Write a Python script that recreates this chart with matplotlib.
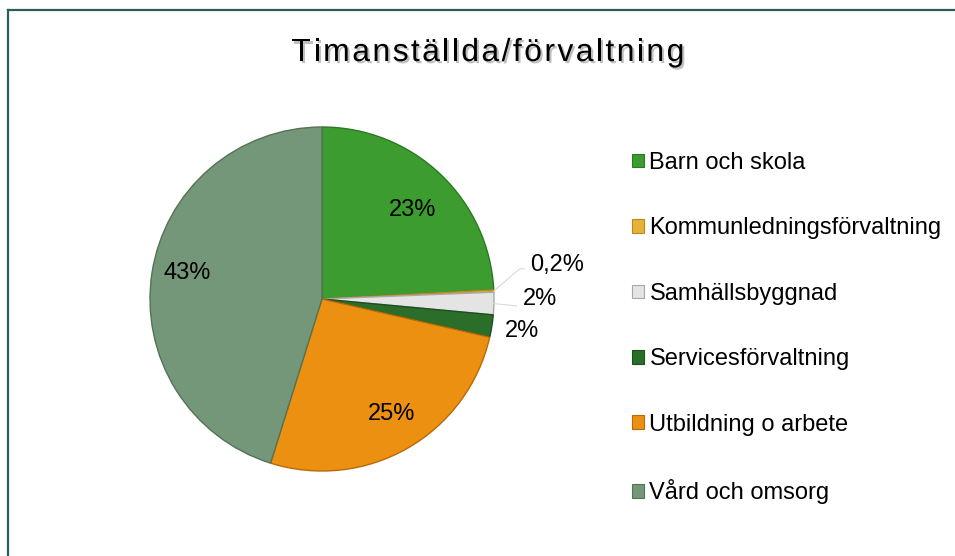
import numpy as np
import matplotlib
matplotlib.use("Agg")
import matplotlib.pyplot as plt
import matplotlib.patheffects as pe
from matplotlib.patches import Patch
from matplotlib.lines import Line2D
from matplotlib.font_manager import FontProperties

plt.rcParams['font.family'] = ['Liberation Sans', 'DejaVu Sans']

title = "Timanställda/förvaltning"
categories = ["Barn och skola", "Kommunledningsförvaltning", "Samhällsbyggnad",
              "Servicesförvaltning", "Utbildning o arbete", "Vård och omsorg"]
values = [23, 0.2, 2, 2, 25, 43]
value_labels = ["23%", "0,2%", "2%", "2%", "25%", "43%"]

colors = ["#3c9c30", "#e8b238", "#e4e4e4", "#2b6e2a", "#ec9012", "#74977a"]
edges = ["#2a7a22", "#b88a20", "#a8a8a8", "#1d4e1d", "#b86a08", "#567256"]

W, H = 955, 556
fig = plt.figure(figsize=(W / 100, H / 100), dpi=100)

# pie axes: pixel box
cx, cy, R = 322, 299, 172
ax = fig.add_axes([(cx - R) / W, (H - cy - R) / H, 2 * R / W, 2 * R / H])
wedges, _ = ax.pie(values, colors=colors, startangle=90, counterclock=False,
                   radius=1.0, wedgeprops=dict(linewidth=1.0))
for w, ec in zip(wedges, edges):
    w.set_edgecolor(ec)
ax.set_xlim(-1, 1)
ax.set_ylim(-1, 1)
ax.set_aspect('equal')
ax.axis('off')

# data labels: (radius, angle shift in degrees)
label_pos = [(0.74, -2), (1.38, 5.5), (1.27, 1.5), (1.18, 0), (0.78, 1.5), (0.80, -2)]
for w, lab, (r, da) in zip(wedges, value_labels, label_pos):
    mid = np.deg2rad((w.theta1 + w.theta2) / 2 + da)
    ax.text(r * np.cos(mid), r * np.sin(mid), lab, ha='center', va='center',
            fontsize=17, color='black', clip_on=False)

# leader lines for tiny slices
for idx, (r, da) in [(1, (1.38, 5.5)), (2, (1.27, 1.5))]:
    w = wedges[idx]
    mid = np.deg2rad((w.theta1 + w.theta2) / 2)
    x0, y0 = np.cos(mid) * 1.0, np.sin(mid) * 1.0
    lm = np.deg2rad(np.rad2deg(mid) + da)
    lx, ly = r * np.cos(lm), r * np.sin(lm)
    if idx == 1:
        xs = [x0, x0 + 0.15, lx - 0.19]
        ys = [y0, ly - 0.02, ly - 0.02]
    else:
        xs = [x0, lx - 0.14]
        ys = [y0, ly - 0.04]
    ax.add_line(Line2D(xs, ys, color='#d9d9d9', lw=0.8, clip_on=False))

# title with letter spacing
renderer = fig.canvas.get_renderer()
fp = FontProperties(family=['Liberation Sans'], size=23)
widths = [renderer.get_text_width_height_descent(ch, fp, ismath=False)[0] for ch in title]
spacing = 2.35
total = sum(widths) + spacing * (len(title) - 1)
x = 488 - total / 2
ty = H - 61
for ch, wd in zip(title, widths):
    fig.text(x / W, ty / H, ch, fontproperties=fp, ha='left', va='baseline',
             path_effects=[pe.SimplePatchShadow(offset=(1.5, -1.5), shadow_rgbFace='#808080', alpha=0.5),
                           pe.Normal()])
    x += wd + spacing

# legend
handles = [Patch(facecolor=c, edgecolor=e, linewidth=0.8) for c, e in zip(colors, edges)]
leg = fig.legend(handles, categories, loc='center left',
                 bbox_to_anchor=(632 / W, (H - 328) / H), frameon=False,
                 fontsize=17, handlelength=0.52, handleheight=0.52,
                 handletextpad=0.22, labelspacing=1.84, borderpad=0, borderaxespad=0)

# border
bc = '#2d5e5c'
fig.add_artist(Line2D([8 / W, 1], [1 - 10 / H, 1 - 10 / H], color=bc, lw=1.6, transform=fig.transFigure))
fig.add_artist(Line2D([8 / W, 8 / W], [0, 1 - 10 / H], color=bc, lw=1.6, transform=fig.transFigure))

fig.savefig("out.png", dpi=100, facecolor='white')
